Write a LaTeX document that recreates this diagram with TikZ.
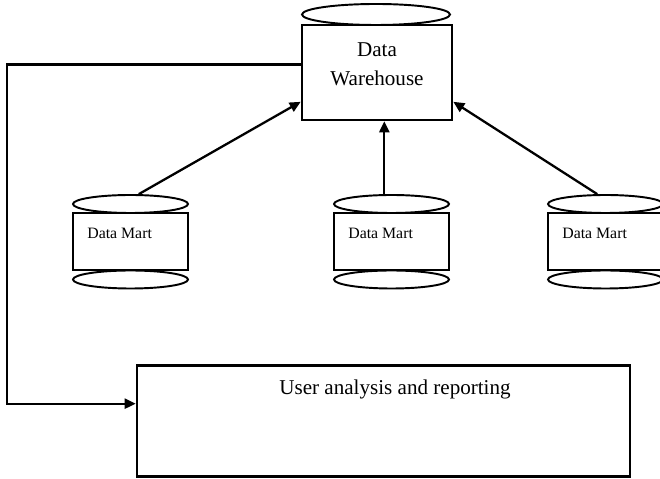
\documentclass[tikz,border=0pt]{standalone}
\usepackage{fontspec}
\setmainfont{Liberation Serif}
\usetikzlibrary{arrows.meta, shapes.geometric}

\begin{document}
\begin{tikzpicture}[>={Triangle[length=.22cm,width=.2cm]},
  box/.style={draw, line width=1.5pt, inner sep=0},
  disk/.style={draw, ellipse, line width=1.1pt, inner sep=0, minimum height=.36cm},
  link/.style={->, line width=1.3pt}]
\useasboundingbox (0,0) rectangle (13.2,9.56);
\clip (0,0) rectangle (13.2,9.56);

\node[box, minimum width=3cm, minimum height=1.9cm] (dw) at (7.54,8.11) {};
\node[disk, minimum width=2.96cm, minimum height=.42cm] (dwtop) at (7.52,9.27) {};
\node[align=center, font=\fontsize{12}{16.5}\selectfont] (dwtxt) at (7.54,8.27) {Data\\Warehouse};

\begin{scope}
\node[box, minimum width=2.3cm, minimum height=1.14cm] (dm1) at (2.61,4.73) {};
\node[disk, minimum width=2.3cm] (dm1top) at (2.61,5.48) {};
\node[disk, minimum width=2.3cm] (dm1bot) at (2.61,3.97) {};
\node[anchor=west, inner sep=0, font=\fontsize{9}{11}\selectfont] (dm1txt) at (1.74,4.9) {Data Mart};
\end{scope}
\begin{scope}[xshift=5.22cm]
\node[box, minimum width=2.3cm, minimum height=1.14cm] (dm2) at (2.61,4.73) {};
\node[disk, minimum width=2.3cm] (dm2top) at (2.61,5.48) {};
\node[disk, minimum width=2.3cm] (dm2bot) at (2.61,3.97) {};
\node[anchor=west, inner sep=0, font=\fontsize{9}{11}\selectfont] (dm2txt) at (1.74,4.9) {Data Mart};
\end{scope}
\begin{scope}[xshift=9.5cm]
\node[box, minimum width=2.3cm, minimum height=1.14cm] (dm3) at (2.61,4.73) {};
\node[disk, minimum width=2.3cm] (dm3top) at (2.61,5.48) {};
\node[disk, minimum width=2.3cm] (dm3bot) at (2.61,3.97) {};
\node[anchor=west, inner sep=0, font=\fontsize{9}{11}\selectfont] (dm3txt) at (1.74,4.9) {Data Mart};
\end{scope}

\node[box, minimum width=9.86cm, minimum height=2.21cm] (ua) at (7.67,1.14) {};
\node[font=\fontsize{12}{14}\selectfont] (uatxt) at (7.9,1.78) {User analysis and reporting};

\draw[link] (dm1top.50) -- (dw.201);
\draw[link] (dm2top.126) -- (dm2top.126 |- dw.south);
\draw[link] (dm3top.130) -- (dw.339);
\coordinate (lft) at (0.14,5);
\draw[link] (dw.174) -| (lft) |- (ua.176);
\end{tikzpicture}
\end{document}
